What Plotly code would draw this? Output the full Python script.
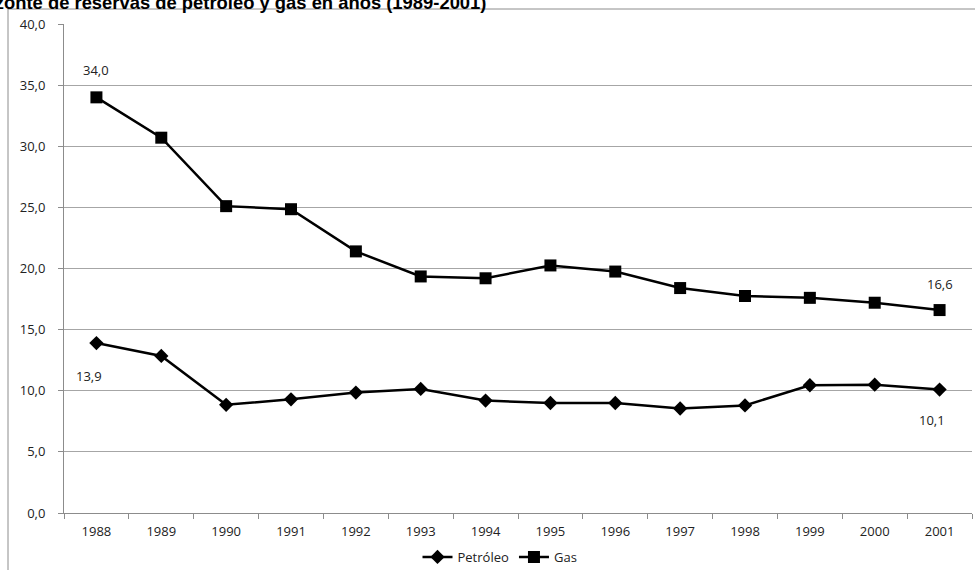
import plotly.graph_objects as go

# Reserve horizon in years, by year
years = ["1988", "1989", "1990", "1991", "1992", "1993", "1994",
         "1995", "1996", "1997", "1998", "1999", "2000", "2001"]
petroleo = [13.9, 12.85, 8.85, 9.3, 9.85, 10.15, 9.2,
            9.0, 9.0, 8.55, 8.8, 10.45, 10.5, 10.1]
gas = [34.0, 30.7, 25.1, 24.85, 21.4, 19.35, 19.2,
       20.25, 19.75, 18.4, 17.75, 17.6, 17.2, 16.6]

y_ticks = [0, 5, 10, 15, 20, 25, 30, 35, 40]
title_text = "Horizonte de reservas de petróleo y gas en años (1989-2001)"

W, H = 975, 570
L, R, T, B = 64, 3, 24, 57
plot_w = W - L - R
plot_h = H - T - B

tick_font = dict(family="Open Sans, Noto Sans, sans-serif", size=13, color="#222222")


def fmt(v):
    return f"{v:.1f}".replace(".", ",")


fig = go.Figure()
fig.add_trace(go.Scatter(
    x=years, y=petroleo, name="Petróleo", mode="lines+markers",
    line=dict(color="black", width=2.5),
    marker=dict(symbol="diamond", size=11, color="black"),
))
fig.add_trace(go.Scatter(
    x=years, y=gas, name="Gas", mode="lines+markers",
    line=dict(color="black", width=2.5),
    marker=dict(symbol="square", size=12, color="black"),
))

# Value labels on the first and last point of each series (x given as category index)
last = len(years) - 1
labels = [
    (0, gas[0], 27, 0),
    (last, gas[-1], 26, 0),
    (0, petroleo[0], -33, -7),
    (last, petroleo[-1], -30, -8),
]
for xi, yv, dy, dx in labels:
    fig.add_annotation(x=xi, y=yv, xref="x", yref="y", text=fmt(yv), showarrow=False,
                       yshift=dy, xshift=dx, font=tick_font)

# Chart title, running off the top-left edge of the canvas
fig.add_annotation(xref="paper", yref="paper",
                   x=(488 - L) / plot_w, y=(H - B - 9) / plot_h,
                   xanchor="right", yanchor="bottom", yshift=-6, showarrow=False,
                   text="<b>" + title_text + "</b>",
                   font=dict(family="Liberation Sans, Arial, sans-serif", size=18.4, color="black"))

# Outer chart frame
fig.add_shape(type="rect", xref="paper", yref="paper",
              x0=(8 - L) / plot_w, x1=(990 - L) / plot_w,
              y0=(H - B - 600) / plot_h, y1=(H - B - 9) / plot_h,
              line=dict(color="#8c8c8c", width=1), layer="below")

fig.update_layout(
    width=W, height=H,
    margin=dict(l=L, r=R, t=T, b=B, autoexpand=False),
    paper_bgcolor="white", plot_bgcolor="white",
    separators=",.",
    showlegend=True,
    legend=dict(orientation="h", x=(500 - L) / plot_w, xanchor="center",
                yref="container", y=(H - 542) / H, yanchor="top",
                font=tick_font, itemwidth=30, tracegroupgap=0),
    xaxis=dict(
        type="category", range=[-0.5, last + 0.5], autorange=False,
        showgrid=False, showline=True, linecolor="#8c8c8c",
        ticks="outside", tickson="boundaries", ticklen=5, tickcolor="#8c8c8c",
        ticklabelstandoff=6,
        tickfont=tick_font, tickangle=0, fixedrange=True,
    ),
    yaxis=dict(
        range=[0, 40], tickvals=y_ticks, tickformat=".1f",
        showgrid=True, gridcolor="#a6a6a6", gridwidth=1,
        showline=True, linecolor="#8c8c8c",
        ticks="outside", ticklen=5, tickcolor="#8c8c8c",
        ticklabelstandoff=10,
        tickfont=tick_font, zeroline=False,
    ),
)

fig.write_html("out.html")
